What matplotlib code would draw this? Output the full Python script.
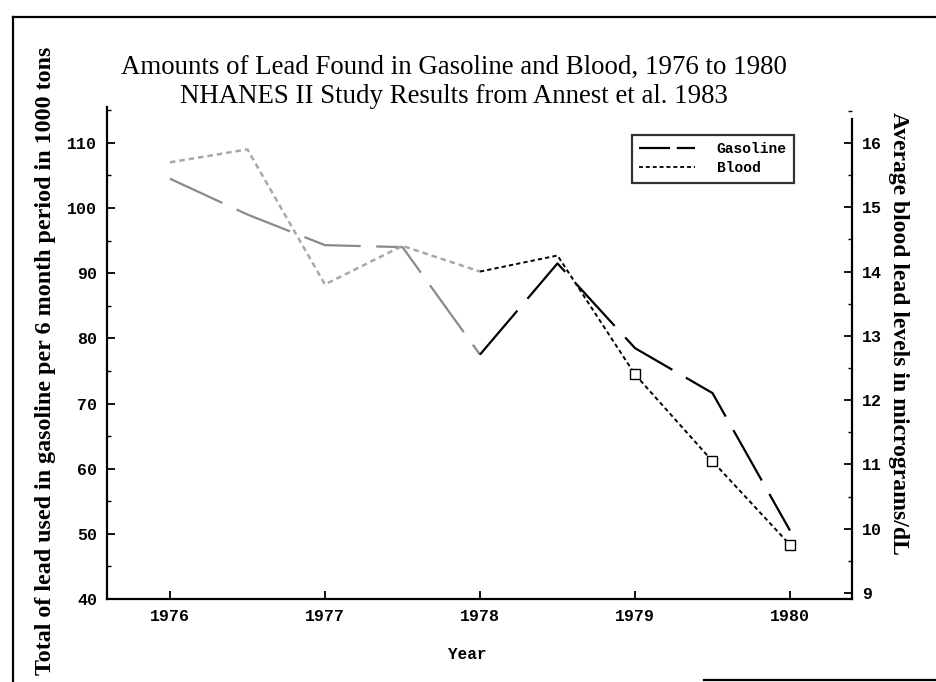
# %% Lead in gasoline vs. blood, 1976-1980 (NHANES II)

import matplotlib
matplotlib.use("Agg")
import matplotlib.pyplot as plt
from matplotlib.lines import Line2D
from matplotlib.ticker import MultipleLocator

# Data (half-year steps)
years = [1976.0, 1976.5, 1977.0, 1977.5, 1978.0, 1978.5, 1979.0, 1979.5, 1980.0]
gasoline = [104.5, 99.0, 94.3, 94.0, 77.5, 91.5, 78.5, 71.6, 50.5]   # 1000 tons
blood = [15.7, 15.9, 13.8, 14.4, 14.0, 14.25, 12.4, 11.05, 9.75]       # ug/dL

year_ticks = [1976, 1977, 1978, 1979, 1980]
gas_ticks = [40, 50, 60, 70, 80, 90, 100, 110]
blood_ticks = [9, 10, 11, 12, 13, 14, 15, 16]

title = ("Amounts of Lead Found in Gasoline and Blood, 1976 to 1980\n"
         "NHANES II Study Results from Annest et al. 1983")

# the scanned original is faded for the first half of the series
split = 4  # index of 1978

mono = "Liberation Mono"
serif = "Liberation Serif"

fig = plt.figure(figsize=(9.36, 6.82), dpi=100)
ax = fig.add_axes([107 / 936, 1 - 599 / 682, (852 - 107) / 936, (599 - 107) / 682])
ax2 = ax.twinx()

gas_dash = (0, (26, 7))
blood_dash = (0, (2.2, 1.6))

# gasoline, left axis
ax.plot(years[:split + 1], gasoline[:split + 1], color="#8a8a8a",
        linewidth=1.6, linestyle=gas_dash)
ax.plot(years[split:], gasoline[split:], color="black",
        linewidth=1.6, linestyle=gas_dash)

# blood, right axis
ax2.plot(years[:split + 1], blood[:split + 1], color="#a8a8a8",
         linewidth=1.8, linestyle=blood_dash)
ax2.plot(years[split:], blood[split:], color="black",
         linewidth=1.4, linestyle=blood_dash)
ax2.plot(years[split + 2:], blood[split + 2:], linestyle="none", marker="s",
         markersize=6.5, markerfacecolor="white", markeredgecolor="black",
         markeredgewidth=1.0)

ax.set_xlim(1975.594, 1980.4)
ax.set_ylim(40, 115.5)
ax2.set_ylim(8.907, 16.56)
ax2.spines["right"].set_bounds(8.907, 16.37)

ax.set_xticks(year_ticks)
ax.set_yticks(gas_ticks)
ax2.set_yticks(blood_ticks)
ax.yaxis.set_minor_locator(MultipleLocator(5))
ax2.yaxis.set_minor_locator(MultipleLocator(0.5))

for a in (ax, ax2):
    a.spines["top"].set_visible(False)
    for s in a.spines.values():
        s.set_linewidth(1.6)
ax.spines["right"].set_visible(False)
ax2.spines["left"].set_visible(False)
ax2.spines["bottom"].set_visible(False)

ax.tick_params(axis="both", which="major", direction="in", length=6, width=1.3,
               labelsize=12, pad=7)
ax.tick_params(axis="y", which="minor", direction="in", length=3, width=1.0)
ax2.tick_params(axis="y", which="major", direction="in", length=6, width=1.3,
                labelsize=12, pad=7)
ax2.tick_params(axis="y", which="minor", direction="in", length=3, width=1.0)

for lab in ax.get_xticklabels() + ax.get_yticklabels() + ax2.get_yticklabels():
    lab.set_fontfamily(mono)
    lab.set_fontweight("bold")

ax.set_xlabel("Year", fontfamily=mono, fontweight="bold", fontsize=11.5)
ax.xaxis.set_label_coords((467 - 107) / (852 - 107), -(647 - 599) / (599 - 107))

fig.text(454 / 936, 1 - 82 / 682, title, ha="center", va="center",
         fontfamily=serif, fontsize=19.4, linespacing=1.17)
fig.text(46 / 936, 1 - 361 / 682,
         "Total of lead used in gasoline per 6 month period in 1000 tons",
         rotation=90, ha="center", va="center", fontfamily=serif,
         fontweight="bold", fontsize=17.3)
fig.text(898 / 936, 1 - 333 / 682,
         "Average blood lead levels in micrograms/dL",
         rotation=270, ha="center", va="center", fontfamily=serif,
         fontweight="bold", fontsize=17)

handles = [
    Line2D([0], [0], color="black", linewidth=1.6, linestyle=(0, (14, 3))),
    Line2D([0], [0], color="black", linewidth=1.3, linestyle=blood_dash),
]
leg = ax.legend(handles, ["Gasoline", "Blood"], loc="upper left",
                bbox_to_anchor=((632 - 107) / (852 - 107), 1 - (135 - 107) / (599 - 107)),
                prop={"family": mono, "weight": "bold", "size": 10.5},
                frameon=True, fancybox=False, handlelength=3.8,
                handletextpad=1.5, borderpad=0.5, labelspacing=0.35,
                borderaxespad=0)
leg.get_frame().set_edgecolor("black")
leg.get_frame().set_linewidth(1.6)

# scanned page border
fig.add_artist(Line2D([13 / 936, 1.0], [1 - 17 / 682, 1 - 17 / 682],
                      color="black", linewidth=1.6))
fig.add_artist(Line2D([13 / 936, 13 / 936], [0.0, 1 - 17 / 682],
                      color="black", linewidth=1.6))
fig.add_artist(Line2D([704 / 936, 1.0], [1 - 680 / 682, 1 - 680 / 682],
                      color="black", linewidth=1.6))

fig.savefig("out.png", dpi=100)
